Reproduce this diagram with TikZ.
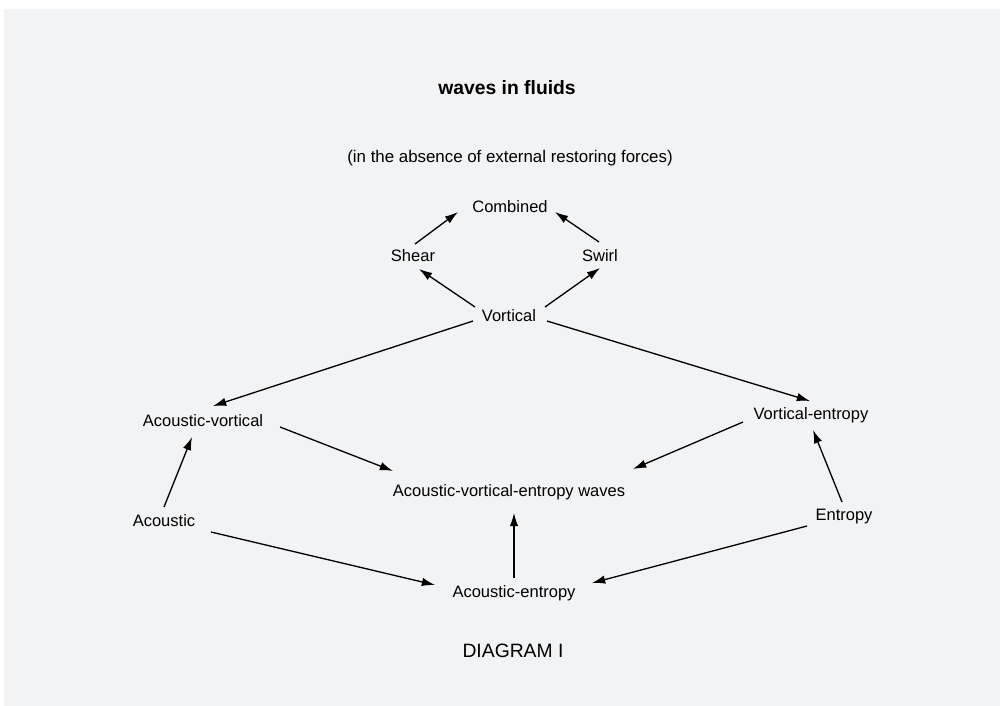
\documentclass[tikz,border=0pt]{standalone}
\usepackage{fontspec}
\setmainfont{Liberation Sans}
\usepackage{tikz}
\usetikzlibrary{calc,arrows.meta}
\definecolor{paper}{RGB}{242,243,245}
\tikzset{
  lbl/.style={font=\fontsize{9.4}{11}\selectfont,inner sep=0pt,text height=6.8pt,text depth=0pt},
  arr/.style={->,line width=0.75pt}
}

\begin{document}
\begin{tikzpicture}[>={Latex[length=7.5pt,width=4.8pt]},x=0.02cm,y=-0.02cm]
  \useasboundingbox (0,0) rectangle (1000,706);
  \fill[white] (0,0) rectangle (1000,706);
  \fill[paper] (4,9) rectangle (1000,706);
  % headings
  \node[lbl,font=\fontsize{11}{13}\bfseries] (title) at (507,89) {waves in fluids};
  \node[lbl,font=\fontsize{9.6}{11}\selectfont] (sub) at (510,157) {(in the absence of external restoring forces)};
  \node[lbl,font=\fontsize{11}{13}\selectfont] (diag) at (513,652) {DIAGRAM I};
  % wave types
  \node[lbl] (comb) at (510,207) {Combined};
  \node[lbl] (shear) at (413,256) {Shear};
  \node[lbl] (swirl) at (600,256) {Swirl};
  \node[lbl] (vort) at (509,316) {Vortical};
  \node[lbl] (av) at (203,421) {Acoustic-vortical};
  \node[lbl] (ve) at (811,414) {Vortical-entropy};
  \node[lbl] (ave) at (509,491) {Acoustic-vortical-entropy waves};
  \node[lbl] (ac) at (164,521) {Acoustic};
  \node[lbl] (en) at (844,515) {Entropy};
  \node[lbl] (ae) at (514,592) {Acoustic-entropy};
  % vortical branch
  \draw[arr] ($(shear)+(2,-12)$) -- ($(comb)+(-52,5)$);
  \draw[arr] ($(swirl)+(-1,-14)$) -- ($(comb)+(45,5)$);
  \draw[arr] ($(vort)+(-34,-9)$) -- ($(shear)+(6,13)$);
  \draw[arr] ($(vort)+(36,-9)$) -- ($(swirl)+(0,12)$);
  \draw[arr] ($(vort)+(-36,5)$) -- ($(av)+(10,-15)$);
  \draw[arr] ($(vort)+(38,5)$) -- ($(ve)+(-1,-13)$);
  % towards the combined waves
  \draw[arr] ($(av)+(77,6)$) -- ($(ave)+(-116,-20)$);
  \draw[arr] ($(ve)+(-68,8)$) -- ($(ave)+(124,-22)$);
  \draw[arr] ($(ae)+(0,-14)$) -- ($(ave)+(5,22)$);
  % acoustic and entropy
  \draw[arr] ($(ac)+(0,-14)$) -- ($(av)+(-11,16)$);
  \draw[arr] ($(ac)+(47,11)$) -- ($(ae)+(-79,-7)$);
  \draw[arr] ($(en)+(-2,-13)$) -- ($(ve)+(2,16)$);
  \draw[arr] ($(en)+(-37,11)$) -- ($(ae)+(78,-9)$);
\end{tikzpicture}
\end{document}
